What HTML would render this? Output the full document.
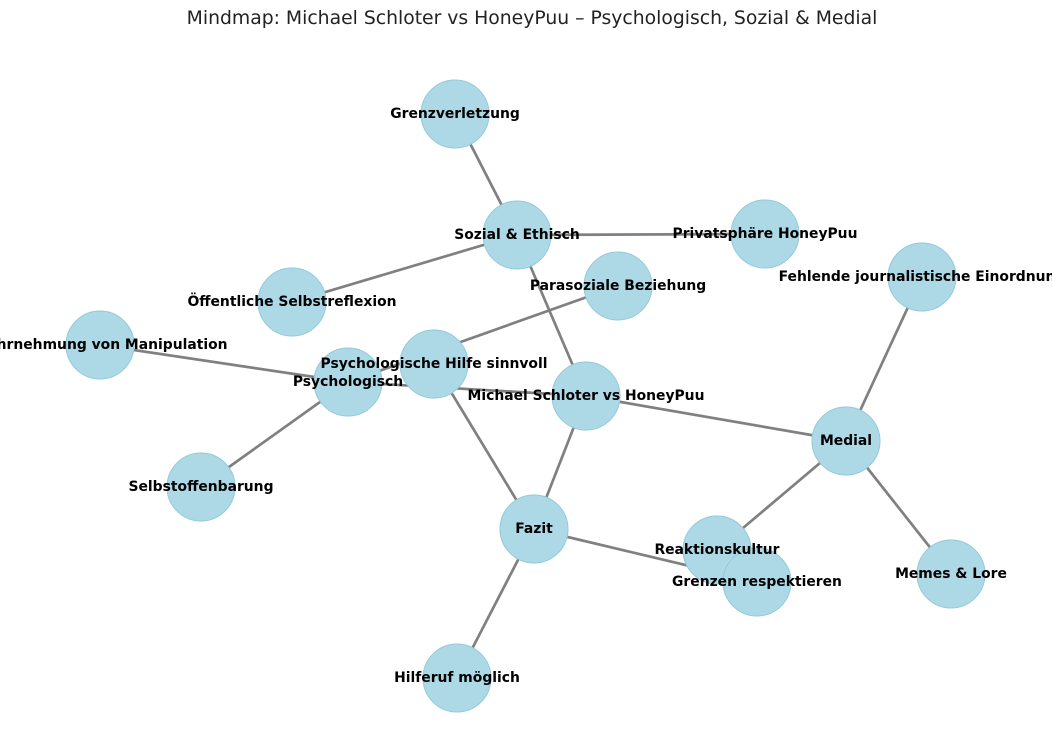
<!DOCTYPE html>
<html><head><meta charset="utf-8"><style>
html,body{margin:0;padding:0;background:#fff;width:1052px;height:748px;overflow:hidden}
svg text{font-family:"DejaVu Sans","Liberation Sans",sans-serif}
</style></head><body>
<svg width="1052" height="748" viewBox="0 0 1052 748" xmlns="http://www.w3.org/2000/svg">
<text x="532" y="24" text-anchor="middle" font-size="18.8" fill="#222">Mindmap: Michael Schloter vs HoneyPuu – Psychologisch, Sozial &amp; Medial</text>
<g stroke="#808080" stroke-width="2.7" stroke-linecap="round">
<line x1="455" y1="114" x2="517" y2="235"/>
<line x1="517" y1="235" x2="765" y2="234"/>
<line x1="517" y1="235" x2="292" y2="302"/>
<line x1="517" y1="235" x2="586" y2="396"/>
<line x1="618" y1="286" x2="348" y2="382"/>
<line x1="100" y1="345" x2="348" y2="382"/>
<line x1="348" y1="382" x2="201" y2="487"/>
<line x1="348" y1="382" x2="586" y2="396"/>
<line x1="434" y1="364" x2="534" y2="529"/>
<line x1="586" y1="396" x2="534" y2="529"/>
<line x1="586" y1="396" x2="846" y2="441"/>
<line x1="846" y1="441" x2="922" y2="277"/>
<line x1="846" y1="441" x2="717" y2="550"/>
<line x1="846" y1="441" x2="951" y2="574"/>
<line x1="534" y1="529" x2="757" y2="582"/>
<line x1="534" y1="529" x2="457" y2="678"/>
</g>
<g fill="#add8e6" stroke="#92cadb" stroke-width="1">
<circle cx="455" cy="114" r="34"/>
<circle cx="517" cy="235" r="34"/>
<circle cx="765" cy="234" r="34"/>
<circle cx="922" cy="277" r="34"/>
<circle cx="292" cy="302" r="34"/>
<circle cx="618" cy="286" r="34"/>
<circle cx="100" cy="345" r="34"/>
<circle cx="348" cy="382" r="34"/>
<circle cx="434" cy="364" r="34"/>
<circle cx="586" cy="396" r="34"/>
<circle cx="846" cy="441" r="34"/>
<circle cx="201" cy="487" r="34"/>
<circle cx="534" cy="529" r="34"/>
<circle cx="717" cy="550" r="34"/>
<circle cx="757" cy="582" r="34"/>
<circle cx="951" cy="574" r="34"/>
<circle cx="457" cy="678" r="34"/>
</g>
<g font-size="13.9" font-weight="bold" fill="#000" text-anchor="middle" dominant-baseline="central">
<text x="455" y="114">Grenzverletzung</text>
<text x="517" y="235">Sozial &amp; Ethisch</text>
<text x="765" y="234">Privatsphäre HoneyPuu</text>
<text x="922" y="277">Fehlende journalistische Einordnung</text>
<text x="292" y="302">Öffentliche Selbstreflexion</text>
<text x="618" y="286">Parasoziale Beziehung</text>
<text x="100" y="345">Wahrnehmung von Manipulation</text>
<text x="348" y="382">Psychologisch</text>
<text x="434" y="364">Psychologische Hilfe sinnvoll</text>
<text x="586" y="396">Michael Schloter vs HoneyPuu</text>
<text x="846" y="441">Medial</text>
<text x="201" y="487">Selbstoffenbarung</text>
<text x="534" y="529">Fazit</text>
<text x="717" y="550">Reaktionskultur</text>
<text x="757" y="582">Grenzen respektieren</text>
<text x="951" y="574">Memes &amp; Lore</text>
<text x="457" y="678">Hilferuf möglich</text>
</g>
</svg>
</body></html>
